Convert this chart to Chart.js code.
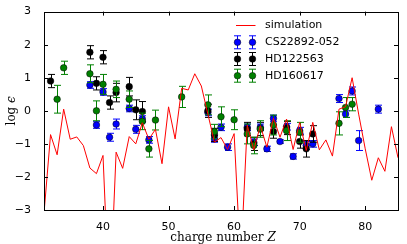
<!DOCTYPE html>
<html>
<head>
<meta charset="utf-8">
<script src="https://cdn.jsdelivr.net/npm/chart.js@4"></script>
<style>
    html, body { margin: 0; padding: 0; background: #fff; }
    #wrap { width: 407px; height: 244px; }
</style>
</head>
<body>
<div id="wrap"><canvas id="chart" width="407" height="244"></canvas></div>
<script>
// ===== DATA =====
const simZ = [31, 32, 33, 34, 35, 36, 37, 38, 39, 40, 41, 42, 43, 44, 45, 46, 47, 48, 49, 50,
              51, 52, 53, 54, 55, 56, 57, 58, 59, 60, 61, 62, 63, 64, 65, 66, 67, 68, 69, 70,
              71, 72, 73, 74, 75, 76, 77, 78, 79, 80, 81, 82, 83, 84, 85];
const simValues = [-3.1, -0.72, -1.33, 0.05, -0.86, -0.79, -1.05, -1.73, -1.9, -1.35,
                   -6.0, -1.25, -1.74, -0.78, -1.0, -0.36, -0.86, -0.56, -1.6, 0.12,
                   -0.85, 0.68, 0.63, 1.12, 0.75, -0.1, -0.95, -0.81, -1.17, -0.69,
                   -4.6, -0.43, -1.18, -0.45, -1.1, -0.22, -0.8, -0.25, -1.17, -0.35,
                   -1.2, -0.35, -1.18, -0.88, -1.37, 0.05, 0.12, 1.0, -0.1, -1.15,
                   -2.1, -1.42, -1.83, -0.48, -1.42];

const blueZ = [38, 39, 40, 41, 42, 44, 45, 46, 47, 56, 57, 58, 59, 62, 63, 64, 65, 66, 67, 68,
               69, 70, 71, 72, 76, 77, 78, 79, 82];
const blueValues = [0.78, -0.43, 0.57, -0.8, -0.4, 0.07, -0.56, -0.25, -0.88, -0.05,
                    -0.85, -0.5, -1.1, -0.5, -0.95, -0.5, -1.15, -0.23, -0.93, -0.48,
                    -1.38, -0.6, -1.05, -1.0, 0.37, -0.1, 0.6, -0.9, 0.05];
const blueErrors = [0.1, 0.1, 0.1, 0.12, 0.15, 0.1, 0.12, 0.1, 0.1, 0.1,
                    0.1, 0.1, 0.1, 0.1, 0.1, 0.1, 0.08, 0.1, 0.05, 0.1,
                    0.08, 0.1, 0.12, 0.1, 0.12, 0.1, 0.12, 0.3, 0.12];

const blackZ = [32, 38, 39, 40, 41, 42, 44, 45, 46, 56, 57, 62, 63, 64, 66, 68, 70, 71, 72];
const blackValues = [0.9, 1.77, 0.83, 1.62, 0.25, 0.55, 0.73, 0.03, -0.02, 0.0,
                     -0.73, -0.55, -1.0, -0.55, -0.63, -0.52, -0.93, -1.15, -0.7];
const blackErrors = [0.2, 0.2, 0.2, 0.2, 0.2, 0.28, 0.28, 0.3, 0.3, 0.2,
                     0.2, 0.2, 0.2, 0.2, 0.2, 0.2, 0.2, 0.25, 0.25];

const greenZ = [33, 34, 38, 39, 40, 42, 44, 46, 47, 48, 52, 56, 57, 58, 60, 62, 63, 64, 66, 68,
                70, 76, 77, 78];
const greenValues = [0.35, 1.3, 1.12, 0.0, 0.8, 0.65, 0.35, -0.32, -1.15, -0.28,
                     0.42, 0.18, -0.63, -0.18, -0.27, -0.7, -1.05, -0.55, -0.43, -0.6,
                     -0.65, -0.38, 0.1, 0.2];
const greenErrors = [0.42, 0.2, 0.27, 0.3, 0.3, 0.25, 0.25, 0.25, 0.25, 0.3,
                     0.32, 0.3, 0.22, 0.3, 0.3, 0.3, 0.25, 0.25, 0.3, 0.3,
                     0.3, 0.35, 0.3, 0.2];

const xTicks = [40, 50, 60, 70, 80];
const yTicks = [-3, -2, -1, 0, 1, 2, 3];

const seriesLabels = ["simulation", "CS22892-052", "HD122563", "HD160617"];
const simColor = "#ff0000";

// ===== HELPERS =====
const toPoints = (xs, ys) => xs.map((x, i) => ({ x: x, y: ys[i] }));

function starDataset(label, xs, ys, errs, color, order) {
    return {
        label: label,
        data: toPoints(xs, ys),
        errors: errs,
        backgroundColor: color,
        borderColor: "#000",
        borderWidth: 0.5,
        pointRadius: 3.3,
        errColor: color,
        order: order,
    };
}

// error bars, drawn just before each dataset's own markers
const errorBarPlugin = {
    id: "errorBars",
    beforeDatasetDraw(chart, args) {
        const ds = chart.data.datasets[args.index];
        if (!ds.errors) return;
        const ctx = chart.ctx;
        const xs = chart.scales.x, ys = chart.scales.y;
        ctx.save();
        ctx.strokeStyle = ds.errColor;
        ctx.lineWidth = 1;
        ds.data.forEach((p, i) => {
            const px = Math.round(xs.getPixelForValue(p.x)) + 0.5;
            const top = ys.getPixelForValue(p.y + ds.errors[i]);
            const bot = ys.getPixelForValue(p.y - ds.errors[i]);
            ctx.beginPath();
            ctx.moveTo(px, top); ctx.lineTo(px, bot);
            ctx.moveTo(px - 3.5, top); ctx.lineTo(px + 3.5, top);
            ctx.moveTo(px - 3.5, bot); ctx.lineTo(px + 3.5, bot);
            ctx.stroke();
        });
        ctx.restore();
    }
};

// frame, inward ticks on all four sides, legend and axis titles
const decorPlugin = {
    id: "decor",
    afterDraw(chart) {
        const ctx = chart.ctx;
        const a = chart.chartArea;
        const xs = chart.scales.x, ys = chart.scales.y;
        ctx.save();
        ctx.strokeStyle = "#000";
        ctx.lineWidth = 1;
        ctx.strokeRect(Math.round(a.left) + 0.5, Math.round(a.top) + 0.5,
                       Math.round(a.right - a.left), Math.round(a.bottom - a.top));
        ctx.beginPath();
        xTicks.forEach(v => {
            const px = Math.round(xs.getPixelForValue(v)) + 0.5;
            ctx.moveTo(px, a.bottom); ctx.lineTo(px, a.bottom - 4);
            ctx.moveTo(px, a.top); ctx.lineTo(px, a.top + 4);
        });
        yTicks.forEach(v => {
            const py = Math.round(ys.getPixelForValue(v)) + 0.5;
            ctx.moveTo(a.left, py); ctx.lineTo(a.left + 4, py);
            ctx.moveTo(a.right, py); ctx.lineTo(a.right - 4, py);
        });
        ctx.stroke();

        // ===== LEGEND =====
        const ds = chart.data.datasets;
        const rowY = [25.5, 42.3, 59, 75.7];
        const hx1 = 237.5, hx2 = 252.5;
        ctx.font = "11px 'DejaVu Sans'";
        ctx.textBaseline = "middle";
        ctx.fillStyle = "#000";
        // simulation line
        ctx.strokeStyle = simColor;
        ctx.lineWidth = 1;
        ctx.beginPath();
        ctx.moveTo(hx1 - 1.5, rowY[0]); ctx.lineTo(hx2 + 3, rowY[0]);
        ctx.stroke();
        ctx.fillText(seriesLabels[0], 265, rowY[0]);
        // marker series, legend order = label order
        [1, 2, 3].forEach((k, r) => {
            const d = ds.find(s => s.label === seriesLabels[k]);
            const y = rowY[r + 1];
            [hx1, hx2].forEach(hx => {
                ctx.strokeStyle = d.errColor;
                ctx.lineWidth = 1;
                ctx.beginPath();
                ctx.moveTo(hx, y - 6.5); ctx.lineTo(hx, y + 6.5);
                ctx.moveTo(hx - 3.5, y - 6.5); ctx.lineTo(hx + 3.5, y - 6.5);
                ctx.moveTo(hx - 3.5, y + 6.5); ctx.lineTo(hx + 3.5, y + 6.5);
                ctx.stroke();
                ctx.beginPath();
                ctx.arc(hx, y, 3.3, 0, Math.PI * 2);
                ctx.fillStyle = d.backgroundColor;
                ctx.fill();
                ctx.lineWidth = 0.5;
                ctx.strokeStyle = "#000";
                ctx.stroke();
            });
            ctx.fillStyle = "#000";
            ctx.fillText(d.label, 265, y);
        });

        // ===== AXIS TITLES =====
        ctx.textBaseline = "alphabetic";
        const xa = "charge number ", xb = "Z";
        ctx.font = "12px 'DejaVu Serif'";
        const wa = ctx.measureText(xa).width;
        ctx.font = "italic 12px 'DejaVu Serif'";
        const wb = ctx.measureText(xb).width;
        let sx = (a.left + a.right) / 2 + 2 - (wa + wb) / 2;
        ctx.font = "12px 'DejaVu Serif'";
        ctx.fillText(xa, sx, 240.5);
        ctx.font = "italic 12px 'DejaVu Serif'";
        ctx.fillText(xb, sx + wa, 240.5);

        const ya = "log ", yb = "\u03F5";
        ctx.font = "12px 'DejaVu Serif'";
        const wya = ctx.measureText(ya).width;
        ctx.font = "italic 12px 'DejaVu Serif'";
        const wyb = ctx.measureText(yb).width;
        ctx.translate(14.5, (a.top + a.bottom) / 2);
        ctx.rotate(-Math.PI / 2);
        const sy = -(wya + wyb) / 2;
        ctx.font = "12px 'DejaVu Serif'";
        ctx.fillText(ya, sy, 0);
        ctx.font = "italic 12px 'DejaVu Serif'";
        ctx.fillText(yb, sy + wya, 0);
        ctx.restore();
    }
};

const tickFont = { family: "'DejaVu Sans'", size: 11 };
const fmt = v => String(v).replace("-", "\u2212");

new Chart(document.getElementById("chart"), {
    type: "scatter",
    data: {
        datasets: [
            {
                label: seriesLabels[0],
                data: toPoints(simZ, simValues),
                showLine: true,
                borderColor: simColor,
                borderWidth: 1,
                pointRadius: 0,
                tension: 0,
                order: 0,
            },
            starDataset(seriesLabels[3], greenZ, greenValues, greenErrors, "#008000", 1),
            starDataset(seriesLabels[2], blackZ, blackValues, blackErrors, "#000000", 2),
            starDataset(seriesLabels[1], blueZ, blueValues, blueErrors, "#0000ff", 3),
        ],
    },
    options: {
        responsive: false,
        animation: false,
        devicePixelRatio: 1,
        events: [],
        layout: { padding: { left: 0, right: 9, top: 10, bottom: 0 } },
        plugins: { legend: { display: false }, tooltip: { enabled: false } },
        scales: {
            x: {
                type: "linear",
                min: 31,
                max: 85,
                afterBuildTicks: s => { s.ticks = xTicks.map(v => ({ value: v })); },
                afterFit: s => { s.height = 34; },
                ticks: { font: tickFont, color: "#000", padding: 3, maxRotation: 0, autoSkip: false, callback: fmt },
                grid: { display: false },
                border: { display: false },
            },
            y: {
                type: "linear",
                min: -3,
                max: 3,
                afterBuildTicks: s => { s.ticks = yTicks.map(v => ({ value: v })); },
                afterFit: s => { s.width = 44; },
                ticks: { font: tickFont, color: "#000", padding: 5, autoSkip: false, callback: fmt },
                grid: { display: false },
                border: { display: false },
            },
        },
    },
    plugins: [errorBarPlugin, decorPlugin],
});
</script>
</body>
</html>
